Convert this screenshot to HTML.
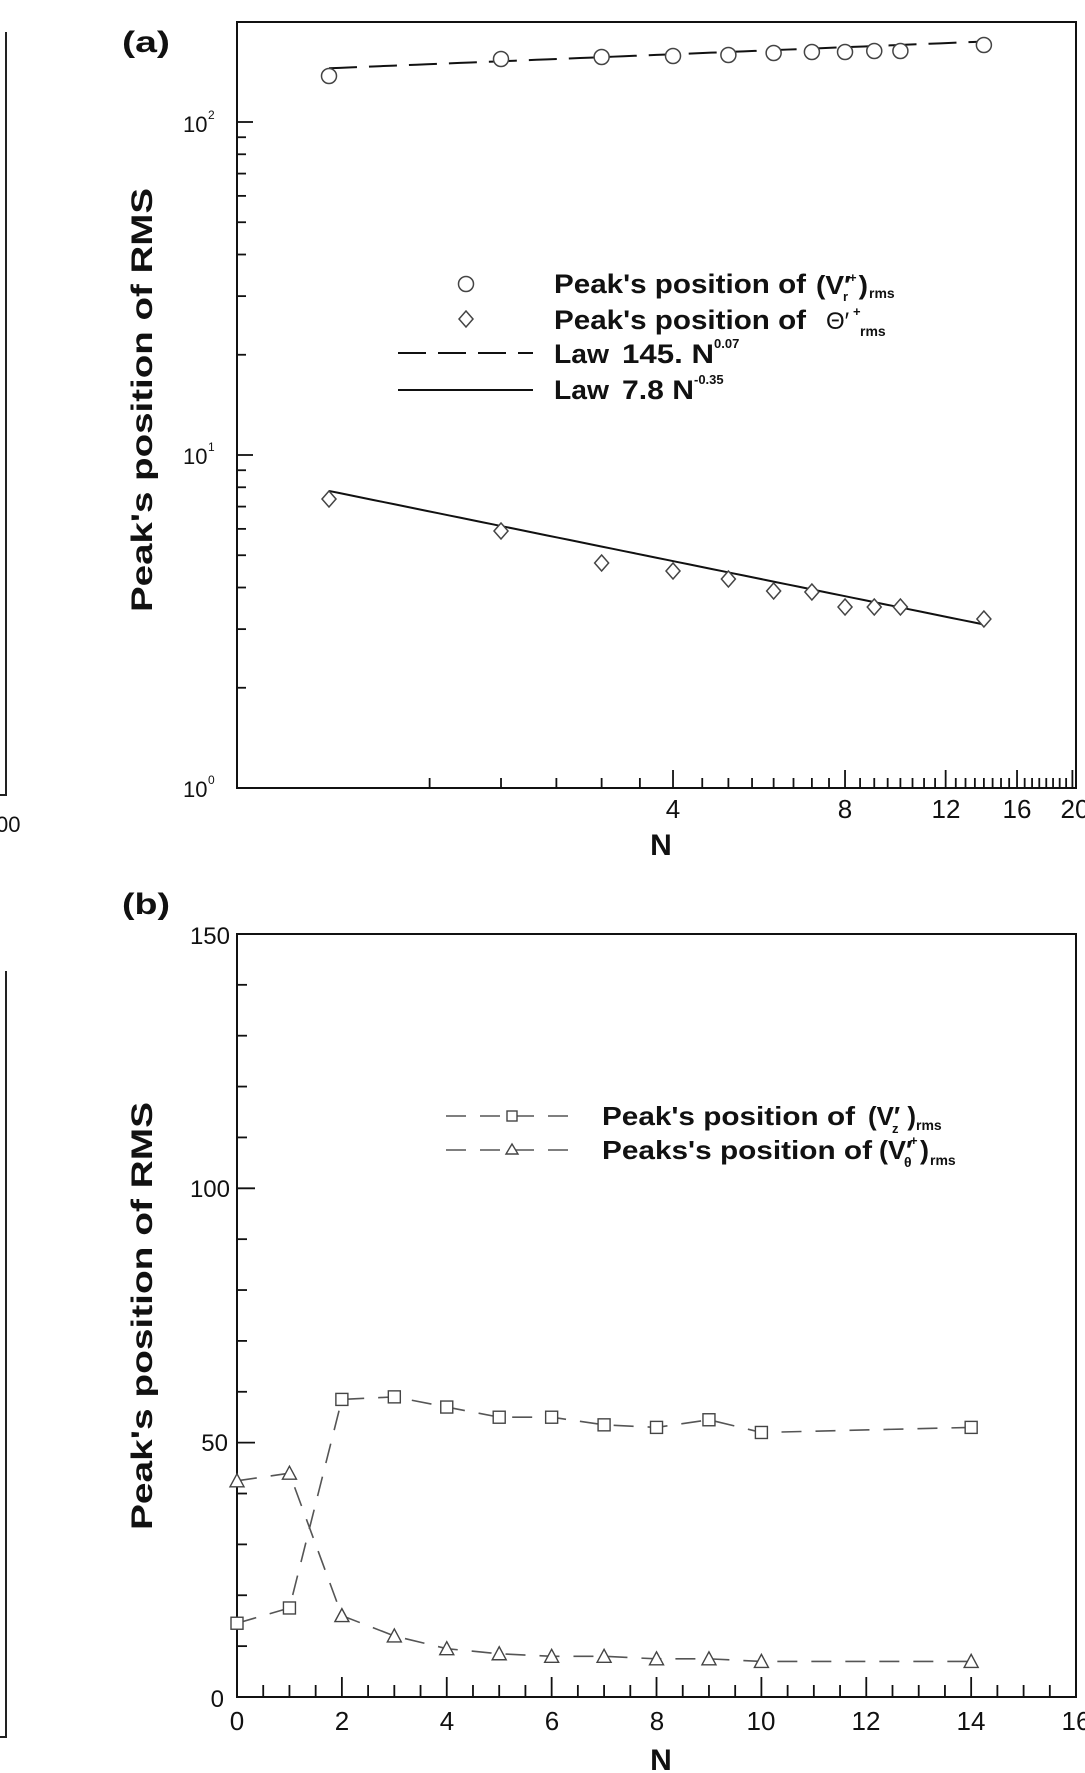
<!DOCTYPE html>
<html><head><meta charset="utf-8"><style>
html,body{margin:0;padding:0;background:#fff;}
svg{display:block;}
text{font-family:"Liberation Sans",sans-serif;fill:#111;}
.b{font-weight:bold;}
</style></head><body>
<svg id="s" width="1085" height="1773" viewBox="0 0 1085 1773" xmlns="http://www.w3.org/2000/svg">
<rect width="1085" height="1773" fill="#fff"/>
<path d="M6 32 V795 H0" fill="none" stroke="#222" stroke-width="2"/>
<text x="-4" y="832" font-size="22">00</text>
<path d="M6 971 V1737 H0" fill="none" stroke="#222" stroke-width="2"/>

<!-- Panel (a) -->
<text x="122" y="52" font-size="30" class="b" textLength="48" lengthAdjust="spacingAndGlyphs">(a)</text>
<rect x="237" y="22" width="839" height="766" fill="none" stroke="#111" stroke-width="2"/>
<g id="ta" stroke="#111" stroke-width="1.8"></g>
<text x="152" y="400" font-size="30" class="b" text-anchor="middle" transform="rotate(-90 152 400)" textLength="424" lengthAdjust="spacingAndGlyphs">Peak's position of RMS</text>
<text x="183" y="132" font-size="22">10</text><text x="208" y="119" font-size="12">2</text>
<text x="183" y="464" font-size="22">10</text><text x="208" y="451" font-size="12">1</text>
<text x="183" y="797" font-size="22">10</text><text x="208" y="784" font-size="12">0</text>
<g font-size="26" text-anchor="middle">
<text x="673" y="818">4</text><text x="845" y="818">8</text><text x="946" y="818">12</text><text x="1017" y="818">16</text><text x="1075" y="818">20</text>
</g>
<text x="661" y="855" font-size="30" class="b" text-anchor="middle">N</text>
<g id="da"></g>
<circle cx="466" cy="284" r="7.5" fill="#fff" stroke="#444" stroke-width="1.5"/>
<path d="M466 311 L473 319 L466 327 L459 319 Z" fill="#fff" stroke="#444" stroke-width="1.5"/>
<line x1="398" y1="353" x2="533" y2="353" stroke="#111" stroke-width="2" stroke-dasharray="28,12"/>
<line x1="398" y1="390" x2="533" y2="390" stroke="#111" stroke-width="2"/>
<g font-size="27" class="b">
<text x="554" y="293" textLength="252" lengthAdjust="spacingAndGlyphs">Peak's position of</text>
<text x="554" y="329" textLength="252" lengthAdjust="spacingAndGlyphs">Peak's position of</text>
<text x="554" y="363" textLength="55" lengthAdjust="spacingAndGlyphs">Law</text>
<text x="622" y="363" textLength="92" lengthAdjust="spacingAndGlyphs">145. N</text>
<text x="554" y="399" textLength="55" lengthAdjust="spacingAndGlyphs">Law</text>
<text x="622" y="399" textLength="72" lengthAdjust="spacingAndGlyphs">7.8 N</text>
</g>
<g font-size="13" class="b">
<text x="714" y="348">0.07</text><text x="694" y="384">-0.35</text>
</g>
<text x="816" y="294" font-size="26" class="b" textLength="52" lengthAdjust="spacingAndGlyphs">(V′  )</text>
<text x="849" y="282" font-size="13" class="b">+</text>
<text x="843" y="301" font-size="13" class="b">r</text>
<text x="869" y="298" font-size="14" class="b">rms</text>
<text x="826" y="329" font-size="24">Θ′</text>
<text x="853" y="316" font-size="13" class="b">+</text>
<text x="860" y="336" font-size="14" class="b">rms</text>

<!-- Panel (b) -->
<text x="122" y="914" font-size="30" class="b" textLength="48" lengthAdjust="spacingAndGlyphs">(b)</text>
<rect x="237" y="934" width="839" height="763" fill="none" stroke="#111" stroke-width="2"/>
<g id="tb" stroke="#111" stroke-width="1.8"></g>
<text x="152" y="1316" font-size="30" class="b" text-anchor="middle" transform="rotate(-90 152 1316)" textLength="428" lengthAdjust="spacingAndGlyphs">Peak's position of RMS</text>
<g font-size="24" text-anchor="end">
<text x="230" y="944">150</text><text x="230" y="1197">100</text><text x="228" y="1451">50</text><text x="224" y="1707">0</text>
</g>
<g font-size="26" text-anchor="middle">
<text x="237" y="1730">0</text><text x="342" y="1730">2</text><text x="447" y="1730">4</text><text x="552" y="1730">6</text><text x="657" y="1730">8</text><text x="761" y="1730">10</text><text x="866" y="1730">12</text><text x="971" y="1730">14</text><text x="1076" y="1730">16</text>
</g>
<text x="661" y="1770" font-size="30" class="b" text-anchor="middle">N</text>
<g id="db"></g>
<line x1="446" y1="1116" x2="574" y2="1116" stroke="#555" stroke-width="1.6" stroke-dasharray="20,14"/>
<rect x="507" y="1111" width="10" height="10" fill="#fff" stroke="#444" stroke-width="1.4"/>
<line x1="446" y1="1150" x2="574" y2="1150" stroke="#555" stroke-width="1.6" stroke-dasharray="20,14"/>
<path d="M512 1144 L518 1154 L506 1154 Z" fill="#fff" stroke="#444" stroke-width="1.4"/>
<g font-size="26" class="b">
<text x="602" y="1125" textLength="253" lengthAdjust="spacingAndGlyphs">Peak's position of</text>
<text x="602" y="1159" textLength="270" lengthAdjust="spacingAndGlyphs">Peaks's position of</text>
<text x="868" y="1125" textLength="48" lengthAdjust="spacingAndGlyphs">(V′ )</text>
<text x="892" y="1133" font-size="13">z</text>
<text x="916" y="1130" font-size="14">rms</text>
<text x="879" y="1159" textLength="50" lengthAdjust="spacingAndGlyphs">(V′ )</text>
<text x="910" y="1145" font-size="13">+</text>
<text x="904" y="1167" font-size="14">θ</text>
<text x="930" y="1165" font-size="14">rms</text>
</g>
</svg>
<script>
const NS="http://www.w3.org/2000/svg";
function el(p,t,a){const e=document.createElementNS(NS,t);for(const k in a)e.setAttribute(k,a[k]);p.appendChild(e);return e;}
const ta=document.getElementById('ta'),da=document.getElementById('da');
const xa=n=>329+571.4*Math.log10(n), ya=v=>788-333*Math.log10(v);
for(let n=1.5;n<=20.01;n+=0.5){const x=xa(n);if(x>1075)continue;const big=[4,8,12,16,20].includes(n);el(ta,'line',{x1:x,y1:788,x2:x,y2:788-(big?18:10)});}
for(let d=0;d<3;d++)for(let m=1;m<10;m++){const y=ya(m*Math.pow(10,d));if(y<22)continue;el(ta,'line',{x1:237,y1:y,x2:237+(m==1?16:9),y2:y});}
const Ns=[1,2,3,4,5,6,7,8,9,10,14];
const cy=[76,59,57,56,55,53,52,52,51,51,45], dy=[499,531,563,571,579,591,592,607,607,607,619];
let pd="",ps="";
for(let i=0;i<=60;i++){const n=Math.pow(14,i/60);pd+=(i?"L":"M")+xa(n)+" "+ya(145*Math.pow(n,0.07));ps+=(i?"L":"M")+xa(n)+" "+ya(7.8*Math.pow(n,-0.35));}
el(da,'path',{d:pd,fill:'none',stroke:'#111','stroke-width':2,'stroke-dasharray':'28,12'});
el(da,'path',{d:ps,fill:'none',stroke:'#111','stroke-width':2});
Ns.forEach((n,i)=>{const x=xa(n);el(da,'circle',{cx:x,cy:cy[i],r:7.5,fill:'#fff',stroke:'#444','stroke-width':1.5});
el(da,'path',{d:`M${x} ${dy[i]-8}L${x+7} ${dy[i]}L${x} ${dy[i]+8}L${x-7} ${dy[i]}Z`,fill:'#fff',stroke:'#444','stroke-width':1.5});});
const tb=document.getElementById('tb'),db=document.getElementById('db');
const xb=n=>237+52.44*n, yb=v=>1697-5.087*v;
for(let n=0.5;n<16;n+=0.5){const big=n%2==0;el(tb,'line',{x1:xb(n),y1:1697,x2:xb(n),y2:1697-(big?20:12)});}
for(let v=10;v<150;v+=10){const big=v%50==0;el(tb,'line',{x1:237,y1:yb(v),x2:237+(big?18:10),y2:yb(v)});}
const Nb=[0,1,2,3,4,5,6,7,8,9,10,14];
const sq=[14.5,17.5,58.5,59,57,55,55,53.5,53,54.5,52,53], tr=[42.5,44,16,12,9.5,8.5,8,8,7.5,7.5,7,7];
[sq,tr].forEach(arr=>{el(db,'path',{d:Nb.map((n,i)=>(i?"L":"M")+xb(n)+" "+yb(arr[i])).join(""),fill:'none',stroke:'#555','stroke-width':1.6,'stroke-dasharray':'20,14'});});
Nb.forEach((n,i)=>{const x=xb(n),y=yb(sq[i]);el(db,'rect',{x:x-6,y:y-6,width:12,height:12,fill:'#fff',stroke:'#444','stroke-width':1.4});
const t=yb(tr[i]);el(db,'path',{d:`M${x} ${t-7}L${x+7} ${t+6}L${x-7} ${t+6}Z`,fill:'#fff',stroke:'#444','stroke-width':1.4});});
</script>
</body></html>
